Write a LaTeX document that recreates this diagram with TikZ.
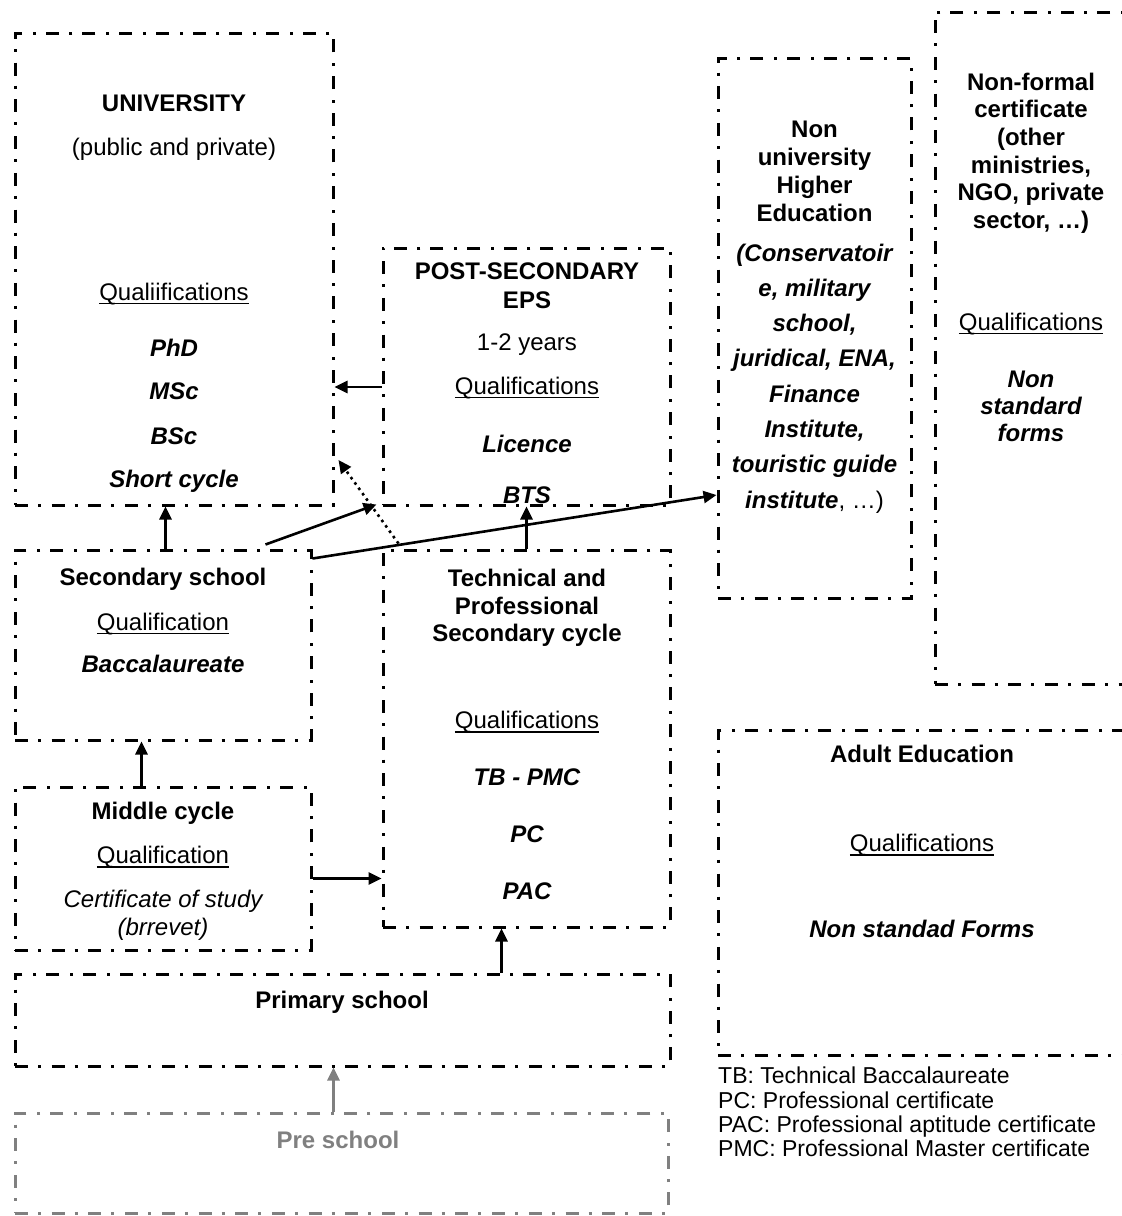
\documentclass[tikz,border=0pt]{standalone}
\usepackage{fontspec}
\setmainfont{Liberation Sans}
\usetikzlibrary{arrows.meta,calc}
\definecolor{pregray}{RGB}{128,128,128}
\tikzset{
  box/.style={draw, line width=3pt, dash pattern=on 13pt off 10pt on 3pt off 10.7pt, inner sep=0pt},
  txt/.style={anchor=base, inner sep=0pt, font=\fontsize{24}{27.6}\selectfont},
  bf/.style={anchor=base, inner sep=0pt, font=\fontsize{24}{27.6}\selectfont\bfseries},
  bi/.style={anchor=base, inner sep=0pt, font=\fontsize{24}{27.6}\selectfont\bfseries\itshape},
  itl/.style={anchor=base, inner sep=0pt, font=\fontsize{24}{27.6}\selectfont\itshape},
  leg/.style={anchor=base west, inner sep=0pt, font=\fontsize{23}{24.5}\selectfont},
  arr/.style={line width=2.6pt, -{Triangle[length=13pt,width=12pt]}},
  dotarr/.style={line width=2.6pt, dash pattern=on 2.6pt off 4pt, -{Triangle[length=13pt,width=12pt]}},
}
\newcommand\ulnode[4]{\node[txt] (#1) at (#2,#3) {#4};
  \draw[line width=1.7pt] ([yshift=-3.5pt]#1.base west) -- ([yshift=-3.5pt]#1.base east);}
\begin{document}
\begin{tikzpicture}[x=1pt,y=-1pt]
\useasboundingbox (0,0) rectangle (1122,1216);
\clip (0,0) rectangle (1122,1216);

% boxes
\node[box, minimum width=318pt, minimum height=472pt] (uni) at (174,269) {};
\node[box, minimum width=287pt, minimum height=257pt] (post) at (526.5,376.5) {};
\node[box, minimum width=193pt, minimum height=540pt] (nuhe) at (814.5,328) {};
\node[box, minimum width=192pt, minimum height=672pt] (nonf) at (1031,348) {};
\node[box, minimum width=296pt, minimum height=190pt] (sec) at (163,645) {};
\node[box, minimum width=287pt, minimum height=377pt] (tech) at (526.5,738.5) {};
\node[box, minimum width=296pt, minimum height=163pt] (mid) at (163,868.5) {};
\node[box, minimum width=655pt, minimum height=92pt] (prim) at (342.5,1020) {};
\node[box, draw=pregray, minimum width=653pt, minimum height=100pt] (pre) at (341.5,1163) {};
\node[box, minimum width=408pt, minimum height=325pt] (adult) at (922,892.5) {};

% University
\node[bf] (u1) at (174,111) {UNIVERSITY};
\node[txt] (u2) at (174,155) {(public and private)};
\ulnode{u3}{174}{300}{Qualiifications}
\node[bi] (u4) at (174,356) {PhD};
\node[bi] (u5) at (174,399) {MSc};
\node[bi] (u6) at (174,444) {BSc};
\node[bi] (u7) at (174,487) {Short cycle};

% Post-secondary
\node[bf] (p1) at (527,279) {POST-SECONDARY};
\node[bf] (p2) at (527,308) {EPS};
\node[txt] (p3) at (527,350) {1-2 years};
\ulnode{p4}{527}{394}{Qualifications}
\node[bi] (p5) at (527,452) {Licence};
\node[bi] (p6) at (527,503) {BTS};

% Non university higher education
\node[bf] (n1) at (814.5,137) {Non};
\node[bf] (n2) at (814.5,165) {university};
\node[bf] (n3) at (814.5,193) {Higher};
\node[bf] (n4) at (814.5,221) {Education};
\node[bi] (n5) at (814.5,261) {(Conservatoir};
\node[bi] (n6) at (814.5,296.3) {e, military};
\node[bi] (n7) at (814.5,331.6) {school,};
\node[bi] (n8) at (814.5,366.9) {juridical, ENA,};
\node[bi] (n9) at (814.5,402.2) {Finance};
\node[bi] (n10) at (814.5,437.5) {Institute,};
\node[bi] (n11) at (814.5,472.8) {touristic guide};
\node[txt] (n12) at (814.5,508) {{\bfseries\itshape institute}, …)};

% Non-formal
\node[bf] (f1) at (1031,90) {Non-formal};
\node[bf] (f2) at (1031,117.6) {certificate};
\node[bf] (f3) at (1031,145) {(other};
\node[bf] (f4) at (1031,173) {ministries,};
\node[bf] (f5) at (1031,200.6) {NGO, private};
\node[bf] (f6) at (1031,228) {sector, …)};
\ulnode{f7}{1031}{330}{Qualifications}
\node[bi] (f8) at (1031,387) {Non};
\node[bi] (f9) at (1031,414) {standard};
\node[bi] (f10) at (1031,441) {forms};

% Secondary school
\node[bf] (s1) at (163,585.5) {Secondary school};
\ulnode{s2}{163}{630}{Qualification}
\node[bi] (s3) at (163,672.5) {Baccalaureate};

% Middle cycle
\node[bf] (m1) at (163,819.5) {Middle cycle};
\ulnode{m2}{163}{863.5}{Qualification}
\node[itl] (m3) at (163,907) {Certificate of study};
\node[itl] (m4) at (163,935) {(brrevet)};

% Technical
\node[bf] (t1) at (527,586.5) {Technical and};
\node[bf] (t2) at (527,614) {Professional};
\node[bf] (t3) at (527,641.5) {Secondary cycle};
\ulnode{t4}{527}{728.5}{Qualifications}
\node[bi] (t5) at (527,785) {TB - PMC};
\node[bi] (t6) at (527,842) {PC};
\node[bi] (t7) at (527,899) {PAC};

% Primary, pre school
\node[bf] (pr1) at (342,1008.5) {Primary school};
\node[bf, text=pregray] (ps1) at (338,1148.5) {Pre school};

% Adult
\node[bf] (a1) at (922,762.5) {Adult Education};
\ulnode{a2}{922}{851.5}{Qualifications}
\node[bi] (a3) at (922,937.5) {Non standad Forms};

% Legend
\node[leg] (l1) at (718,1083) {TB: Technical Baccalaureate};
\node[leg] (l2) at (718,1108) {PC: Professional certificate};
\node[leg] (l3) at (718,1132) {PAC: Professional aptitude certificate};
\node[leg] (l4) at (718,1156) {PMC: Professional Master certificate};

% connectors
\draw[arr] ([yshift=-10.5pt]post.west) -- ([yshift=-10.5pt]post.west -| uni.east);
\draw[dotarr] ([xshift=17pt,yshift=5pt]tech.north west) -- ([xshift=4pt,yshift=-191pt]uni.east);
\draw[arr] ([xshift=252pt,yshift=4pt]sec.north west) -- ([xshift=-5pt,yshift=2pt]post.south west);
\draw[arr] ([yshift=-10pt]sec.north east) -- ([yshift=-167pt]nuhe.west);
\draw[arr] ([xshift=152pt]sec.north west) -- ([xshift=152pt]sec.north west |- uni.south);
\draw[arr] (tech.north) -- (post.south);
\draw[arr] ([xshift=128pt]mid.north west) -- ([xshift=128pt]mid.north west |- sec.south);
\draw[arr] ([yshift=-93pt]mid.north east) -- ([yshift=-93pt]mid.north east -| tech.west);
\draw[arr] ([xshift=488pt]prim.north west) -- ([xshift=488pt]prim.north west |- tech.south);
\draw[arr, draw=pregray, fill=pregray] ([xshift=320pt]pre.north west) -- ([xshift=320pt]pre.north west |- prim.south);
\end{tikzpicture}
\end{document}
